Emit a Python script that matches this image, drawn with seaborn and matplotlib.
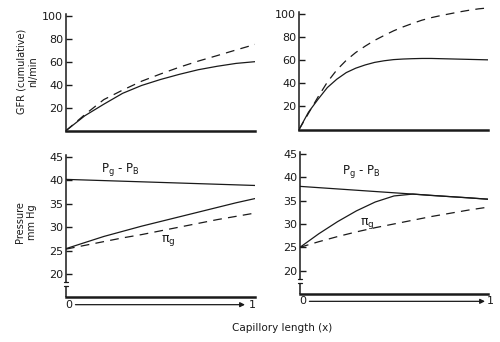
import matplotlib
matplotlib.use("Agg")
import matplotlib.pyplot as plt
import matplotlib.transforms as mtransforms
import seaborn as sns

# Fractional capillary length
x = [0.0, 0.1, 0.2, 0.3, 0.4, 0.5, 0.6, 0.7, 0.8, 0.9, 1.0]
x_fine = [0.0, 0.05, 0.1, 0.15, 0.2, 0.25, 0.3, 0.35, 0.4, 0.45, 0.5,
          0.55, 0.6, 0.65, 0.7, 0.75, 0.8, 0.85, 0.9, 0.95, 1.0]

# Cumulative GFR (nl/min)
gfr_left_solid = [0, 13, 23, 32.5, 39.3, 44.5, 49, 53, 56, 58.5, 60]
gfr_left_dashed = [0, 14, 27, 35.3, 43, 49.3, 55.2, 60.5, 65.3, 70.2, 75]
gfr_right_solid = [0, 15, 26, 36.3, 43.5, 49.2, 53, 55.8, 58, 59.4, 60.4,
                   60.9, 61.2, 61.4, 61.4, 61.2, 61, 60.8, 60.6, 60.4, 60.2]
gfr_right_dashed = [0, 14, 28, 41, 51.5, 59.8, 66.5, 72, 77, 81.2, 85.2,
                    88.6, 91.6, 94.4, 96.6, 98.4, 100, 101.6, 103, 104.2, 105]

# Pressures (mm Hg)
ends = [0.0, 1.0]
pgpb_left = [40.2, 38.9]
pi_left_solid = [25.4, 26.7, 28.0, 29.1, 30.2, 31.2, 32.2, 33.2, 34.2, 35.2, 36.1]
pi_left_dashed = [25.3, 26.1, 26.9, 27.7, 28.4, 29.2, 30.0, 30.8, 31.6, 32.3, 33.0]
pgpb_right = [38.05, 35.3]
pi_right_solid = [25.0, 27.9, 30.5, 32.8, 34.7, 36.0, 36.4, 36.1, 35.85, 35.6, 35.3]
pi_right_dashed = [25.0, 26.2, 27.3, 28.3, 29.2, 30.0, 30.8, 31.6, 32.3, 33.0, 33.6]

gfr_ticks = [20, 40, 60, 80, 100]
pressure_ticks = [20, 25, 30, 35, 40, 45]

sns.set_style("ticks")
plt.rcParams["font.family"] = ["DejaVu Sans"]
plt.rcParams["mathtext.default"] = "regular"

INK = "#1a1a1a"
DASH = (0, (7, 5))

fig = plt.figure(figsize=(5.0, 3.42), dpi=100)
fig.patch.set_facecolor("white")

ax_tl = fig.add_axes([0.132, 0.618, 0.378, 0.363])
ax_tr = fig.add_axes([0.598, 0.621, 0.378, 0.366])
ax_bl = fig.add_axes([0.132, 0.1307, 0.378, 0.431])
ax_br = fig.add_axes([0.600, 0.1404, 0.376, 0.430])


def style_axes(ax, ticks, ylim, spine_top):
    ax.set_xlim(0, 1)
    ax.set_ylim(*ylim)
    ax.set_facecolor("white")
    for side in ("top", "right"):
        ax.spines[side].set_visible(False)
    ax.spines["left"].set_color(INK)
    ax.spines["left"].set_linewidth(1.1)
    ax.spines["bottom"].set_color(INK)
    ax.spines["bottom"].set_linewidth(1.8)
    ax.spines["left"].set_bounds(ylim[0], spine_top)
    ax.set_xticks([])
    ax.set_yticks(ticks)
    ax.set_yticklabels([str(t) for t in ticks])
    ax.tick_params(axis="y", direction="in", length=4, width=1.0,
                   color=INK, labelsize=8, labelcolor=INK, pad=2)
    ax.set_xlabel("")
    ax.set_ylabel("")


def draw(ax, xs, ys, dashed=False):
    sns.lineplot(x=xs, y=ys, ax=ax, color=INK, linewidth=0.9,
                 linestyle=DASH if dashed else "-", estimator=None,
                 sort=False, legend=False)


# --- GFR panels ---
for ax, xs, solid, dashed in ((ax_tl, x, gfr_left_solid, gfr_left_dashed),
                              (ax_tr, x_fine, gfr_right_solid, gfr_right_dashed)):
    draw(ax, xs, dashed, dashed=True)
    draw(ax, xs, solid)
    style_axes(ax, gfr_ticks, (0, 108), 101.5)

# --- Pressure panels ---
panels = (
    (ax_bl, pgpb_left, pi_left_solid, pi_left_dashed,
     (0.29, 42.4), (0.54, 27.2), (0.947, 0.988)),
    (ax_br, pgpb_right, pi_right_solid, pi_right_dashed,
     (0.327, 41.3), (0.355, 30.1), (0.984, 1.014)),
)
for ax, pgpb, solid, dashed, pg_pos, pi_pos, arrow_end in panels:
    draw(ax, ends, pgpb)
    draw(ax, x, solid)
    draw(ax, x, dashed, dashed=True)
    style_axes(ax, pressure_ticks, (15, 46.5), 45.4)
    ax.spines["left"].set_bounds(18.2, 45.4)

    # broken y axis near the origin
    tr = mtransforms.blended_transform_factory(ax.transAxes, ax.transData)
    ax.plot([0, 0], [15, 17.4], transform=tr, color=INK, lw=1.1,
            clip_on=False, solid_capstyle="butt")
    for yb in (17.4, 18.2):
        ax.plot([-0.012, 0.012], [yb, yb], transform=tr, color=INK,
                lw=0.9, clip_on=False)

    ax.text(pg_pos[0], pg_pos[1], r"$P_g$ - $P_B$", fontsize=8.5,
            color=INK, ha="center", va="center")
    ax.text(pi_pos[0], pi_pos[1], r"$\pi_g$", fontsize=9,
            color=INK, ha="center", va="center")

    # direction along the capillary, 0 -> 1
    ax.annotate("", xy=(arrow_end[0], -0.05), xytext=(0.05, -0.05),
                xycoords="axes fraction", textcoords="axes fraction",
                arrowprops=dict(arrowstyle="-|>", color=INK, lw=0.9,
                                mutation_scale=7, shrinkA=0, shrinkB=0),
                annotation_clip=False)
    ax.text(0.012, -0.05, "0", transform=ax.transAxes, fontsize=8,
            color=INK, ha="center", va="center")
    ax.text(arrow_end[1], -0.05, "1", transform=ax.transAxes, fontsize=8,
            color=INK, ha="center", va="center")

fig.text(0.054, 0.79, "GFR (cumulative)\nnl/min", rotation=90,
         fontsize=7, color=INK, ha="center", va="center",
         multialignment="center", linespacing=1.2)
fig.text(0.052, 0.351, "Pressure\nmm Hg", rotation=90,
         fontsize=7, color=INK, ha="center", va="center",
         multialignment="center", linespacing=1.2)
fig.text(0.564, 0.041, "Capillory length (x)", fontsize=7.5, color=INK,
         ha="center", va="center")

fig.savefig("out.png", dpi=100, facecolor="white")
